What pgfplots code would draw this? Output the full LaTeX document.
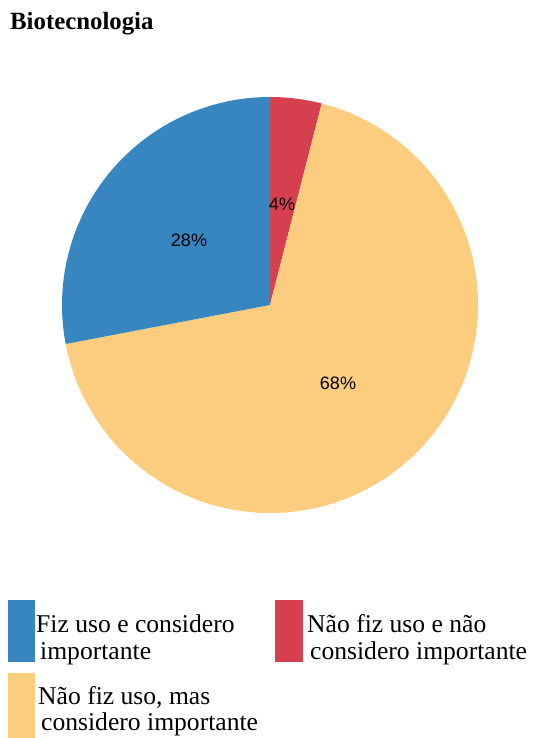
\documentclass[border=0pt]{standalone}
\usepackage{pgfplots}
\pgfplotsset{compat=1.18}
\usepackage{fontspec}
\setmainfont{Liberation Serif}
\newfontfamily\arial{Liberation Sans}
\definecolor{cblue}{HTML}{3786BF}
\definecolor{cred}{HTML}{D6404E}
\definecolor{cyel}{HTML}{FDCD7F}
% data (percent): Nao fiz uso e nao considero = 4, Nao fiz uso mas considero = 68, Fiz uso e considero = 28
\def\vRed{4}
\def\vYel{68}
\def\vBlue{28}
\begin{document}
\begin{tikzpicture}
\begin{axis}[
  hide axis, scale only axis, width=533pt, height=738pt,
  xmin=0, xmax=533, ymin=0, ymax=738, clip=false]
\path (axis cs:0,0) rectangle (axis cs:533,738);
% pie, centre (270,433), radius 208pt, starting at 12 o'clock, clockwise
\fill[cred] (axis cs:270,433) -- ([shift={(90:208pt)}]axis cs:270,433)
  arc[start angle=90, end angle={90-3.6*\vRed}, radius=208pt] -- cycle;
\fill[cyel] (axis cs:270,433) -- ([shift={({90-3.6*\vRed}:208pt)}]axis cs:270,433)
  arc[start angle={90-3.6*\vRed}, end angle={90-3.6*(\vRed+\vYel)}, radius=208pt] -- cycle;
\fill[cblue] (axis cs:270,433) -- ([shift={({90-3.6*(\vRed+\vYel)}:208pt)}]axis cs:270,433)
  arc[start angle={90-3.6*(\vRed+\vYel)}, end angle={90-3.6*(\vRed+\vYel+\vBlue)}, radius=208pt] -- cycle;
% percent labels
\node[font=\arial\fontsize{18}{20}\selectfont, inner sep=0] at (axis cs:282,534) {4\%};
\node[font=\arial\fontsize{18}{20}\selectfont, inner sep=0] at (axis cs:189,498) {28\%};
\node[font=\arial\fontsize{18}{20}\selectfont, inner sep=0] at (axis cs:338,355) {68\%};
% title
\node[anchor=base west, inner sep=0, font=\bfseries\fontsize{24.8}{26}\selectfont] at (axis cs:10,708) {Biotecnologia};
% legend
\fill[cblue] (axis cs:8,138) rectangle (axis cs:35,76);
\fill[cred] (axis cs:275,138) rectangle (axis cs:303,76);
\fill[cyel] (axis cs:8,65) rectangle (axis cs:35,0);
\tikzset{lg/.style={anchor=base west, inner sep=0, font=\fontsize{25.6}{27}\selectfont}}
\node[lg] at (axis cs:36,105) {Fiz uso e considero};
\node[lg] at (axis cs:40,78) {importante};
\node[lg] at (axis cs:307,105) {Não fiz uso e não};
\node[lg] at (axis cs:310,78) {considero importante};
\node[lg] at (axis cs:38,33) {Não fiz uso, mas};
\node[lg] at (axis cs:41,7) {considero importante};
\end{axis}
\end{tikzpicture}
\end{document}
